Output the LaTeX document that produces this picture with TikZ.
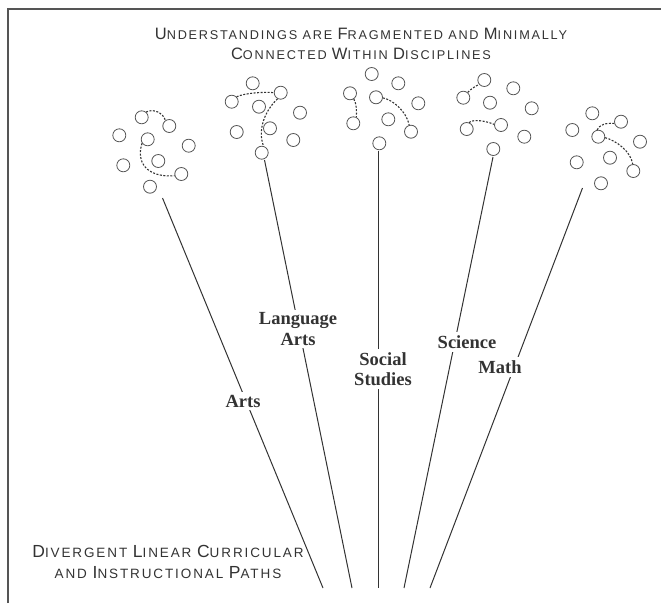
\documentclass[tikz,border=0pt]{standalone}
\usepackage{fontspec}
\setmainfont{Liberation Serif}
\newfontfamily\capsfont[LetterSpace=14]{Liberation Sans}
\definecolor{ink}{HTML}{333333}
\definecolor{ringc}{HTML}{555555}
\newcommand{\bg}[1]{{\fontsize{16.5}{20}\selectfont #1}}
\newcommand{\bgb}[1]{{\fontsize{17.5}{21}\selectfont #1}}
\tikzset{
  ring/.style={circle, draw=ringc, line width=0.8pt, minimum size=13pt, inner sep=0pt},
  link/.style={draw=ink, line width=1.1pt, dash pattern=on 2pt off 1.5pt},
  path/.style={draw=ink, line width=1pt},
  subj/.style={font=\fontsize{18.5}{20.5}\selectfont\bfseries, text=ink, fill=white, align=center, inner sep=3pt},
  caps/.style={font=\capsfont\fontsize{12.7}{20}\selectfont, text=ink, align=center, inner sep=0pt},
  capsb/.style={font=\capsfont\fontsize{13.5}{21}\selectfont, text=ink, align=center, inner sep=0pt},
  frame/.style={draw=ringc, line width=1.6pt}
}
\begin{document}
\begin{tikzpicture}[x=1pt,y=-1pt]
\useasboundingbox (0,0) rectangle (661,603);
\coordinate (f1) at (8,603);
\coordinate (f2) at (8,9);
\coordinate (f3) at (661,9);
\draw[frame] (f1) -- (f2) -- (f3);

% titles
\node[caps] (title) at (361,44) {\bg{U}NDERSTANDINGS ARE \bg{F}RAGMENTED AND \bg{M}INIMALLY\\ \bg{C}ONNECTED \bg{W}ITHIN \bg{D}ISCIPLINES};
\node[capsb] (foot) at (168,562) {\bgb{D}IVERGENT \bgb{L}INEAR \bgb{C}URRICULAR\\ AND \bgb{I}NSTRUCTIONAL \bgb{P}ATHS};

% path end points
\coordinate (tA) at (162.5,198);  \coordinate (bA) at (323,588);
\coordinate (tL) at (264.5,160);  \coordinate (bL) at (352,588);
\coordinate (tS) at (378,151);    \coordinate (bS) at (378,588);
\coordinate (tC) at (493,157);    \coordinate (bC) at (404,588);
\coordinate (tM) at (582.5,188);  \coordinate (bM) at (430,588);
\draw[path] (tA) -- (bA);
\draw[path] (tL) -- (bL);
\draw[path] (tS) -- (bS);
\draw[path] (tC) -- (bC);
\draw[path] (tM) -- (bM);

\node[subj] (arts) at (243,401) {Arts};
\node[subj] (lang) at (298,329) {Language\\Arts};
\node[subj] (soc) at (383,369) {Social\\Studies};
\node[subj] (sci) at (467,342) {Science};
\node[subj] (math) at (500,367) {Math};

% cluster 1 (Arts)
\node[ring] (a1) at (141.7,117.3) {};
\node[ring] (a2) at (169.3,126) {};
\node[ring] (a3) at (119.3,135.3) {};
\node[ring] (a4) at (147.7,139.3) {};
\node[ring] (a5) at (188.7,145.7) {};
\node[ring] (a6) at (158.3,161) {};
\node[ring] (a7) at (123.3,165.3) {};
\node[ring] (a8) at (181.3,174) {};
\node[ring] (a9) at (150,186.7) {};
\draw[link] (a1.50) .. controls +(8,-4) and +(-2,-7) .. (a2.125);
\draw[link] (a4.215) .. controls +(-6,18) and +(-29,2) .. (a8.195);

% cluster 2 (Language Arts)
\node[ring] (b1) at (252.7,83.3) {};
\node[ring] (b2) at (280.7,92.7) {};
\node[ring] (b3) at (231.7,101.7) {};
\node[ring] (b4) at (259,106.7) {};
\node[ring] (b5) at (300,112.7) {};
\node[ring] (b6) at (270,128.3) {};
\node[ring] (b7) at (236.7,132) {};
\node[ring] (b8) at (293.3,140) {};
\node[ring] (b9) at (261.7,152.7) {};
\draw[link] (b3.45) .. controls +(8,-4) and +(-8,-1) .. (b2.180);
\draw[link] (b2.243) .. controls +(-13,12) and +(-6,-16) .. (b9.75);

% cluster 3 (Social Studies)
\node[ring] (c1) at (371.7,74) {};
\node[ring] (c2) at (398.3,83.3) {};
\node[ring] (c3) at (350,93.3) {};
\node[ring] (c4) at (376,97.3) {};
\node[ring] (c5) at (418.3,103.3) {};
\node[ring] (c6) at (388.3,119.3) {};
\node[ring] (c7) at (353.3,123.3) {};
\node[ring] (c8) at (411,131.7) {};
\node[ring] (c9) at (379.3,143.3) {};
\draw[link] (c3.-56) .. controls +(3,6) and +(0,-7) .. (c7.63);
\draw[link] (c4.-5) .. controls +(10,2) and +(-3,-14) .. (c8.105);

% cluster 4 (Science)
\node[ring] (d1) at (484.3,80) {};
\node[ring] (d2) at (513.3,88.3) {};
\node[ring] (d3) at (463.3,97.7) {};
\node[ring] (d4) at (490,102.7) {};
\node[ring] (d5) at (531.7,108.3) {};
\node[ring] (d6) at (501,125) {};
\node[ring] (d7) at (466.7,129) {};
\node[ring] (d8) at (524.3,136.7) {};
\node[ring] (d9) at (493.3,149) {};
\draw[link] (d3.50) .. controls +(4,-4) and +(-4,2) .. (d1.220);
\draw[link] (d7.70) .. controls +(5,-4) and +(-7,-3) .. (d6.175);

% cluster 5 (Math)
\node[ring] (e1) at (592.3,113.3) {};
\node[ring] (e2) at (621,121.7) {};
\node[ring] (e3) at (572.3,130) {};
\node[ring] (e4) at (598.3,136.7) {};
\node[ring] (e5) at (640,141.7) {};
\node[ring] (e6) at (610,157.7) {};
\node[ring] (e7) at (576.7,162.3) {};
\node[ring] (e8) at (633.3,171) {};
\node[ring] (e9) at (601,183.3) {};
\draw[link] (e4.100) .. controls +(2,-5) and +(-8,-1) .. (e2.195);
\draw[link] (e4.-8) .. controls +(11,3) and +(-2,-13) .. (e8.95);
\end{tikzpicture}
\end{document}
